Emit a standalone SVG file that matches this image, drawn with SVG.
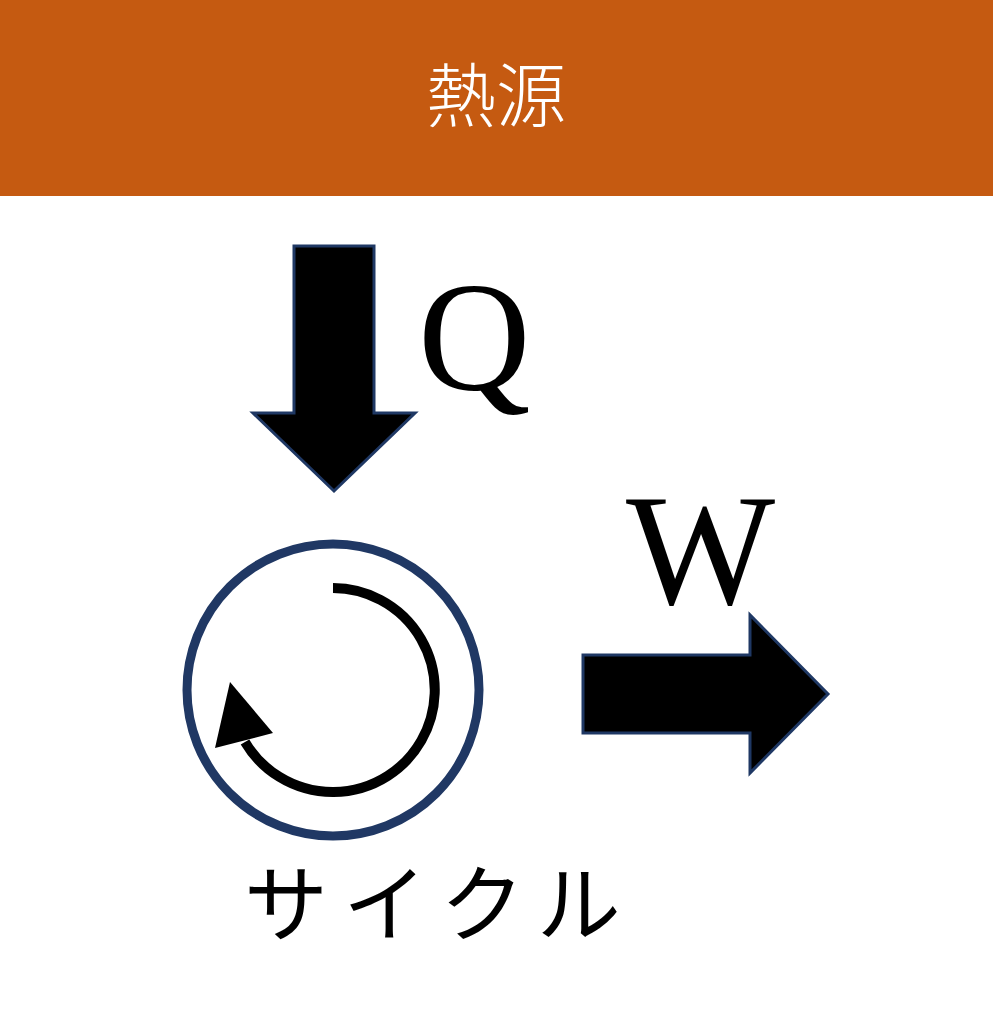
<svg xmlns="http://www.w3.org/2000/svg" width="993" height="1024" viewBox="0 0 993 1024">
<style>
.blk{fill:#000;stroke:#1f3864;stroke-width:3;stroke-linejoin:miter}
.lat{font-family:"Liberation Serif","Times New Roman",serif;fill:#000}
.jp{font-family:"Noto Sans CJK JP","Noto Sans CJK SC",sans-serif}
</style>
<rect x="0" y="0" width="993" height="1024" fill="#fff"/>
<g id="heat-source">
<rect x="0" y="0" width="993" height="196" fill="#c55a11"/>
<text x="496" y="122" text-anchor="middle" class="jp" font-size="70" font-weight="300" fill="#fff">熱源</text>
</g>
<g id="connectors">
<polygon class="blk" points="294,246 374,246 374,413 415,413 334,491 253,413 294,413"/>
<polygon class="blk" points="583,655 750,655 750,615 828,694 750,773 750,733 583,733"/>
</g>
<g id="Q"><text x="418" y="389" class="lat" font-size="156">Q</text></g>
<g id="W"><text x="626" y="604" class="lat" font-size="158">W</text></g>
<g id="cycle">
<circle cx="333" cy="690" r="146" fill="none" stroke="#203864" stroke-width="9"/>
<path d="M333,588 A102,102 0 1 1 245,742" fill="none" stroke="#000" stroke-width="10"/>
<polygon points="230,682 215,748 273,733" fill="#000"/>
<text x="244" y="935" class="jp" font-size="84" font-weight="400" letter-spacing="15" fill="#000">サイクル</text>
</g>
</svg>
